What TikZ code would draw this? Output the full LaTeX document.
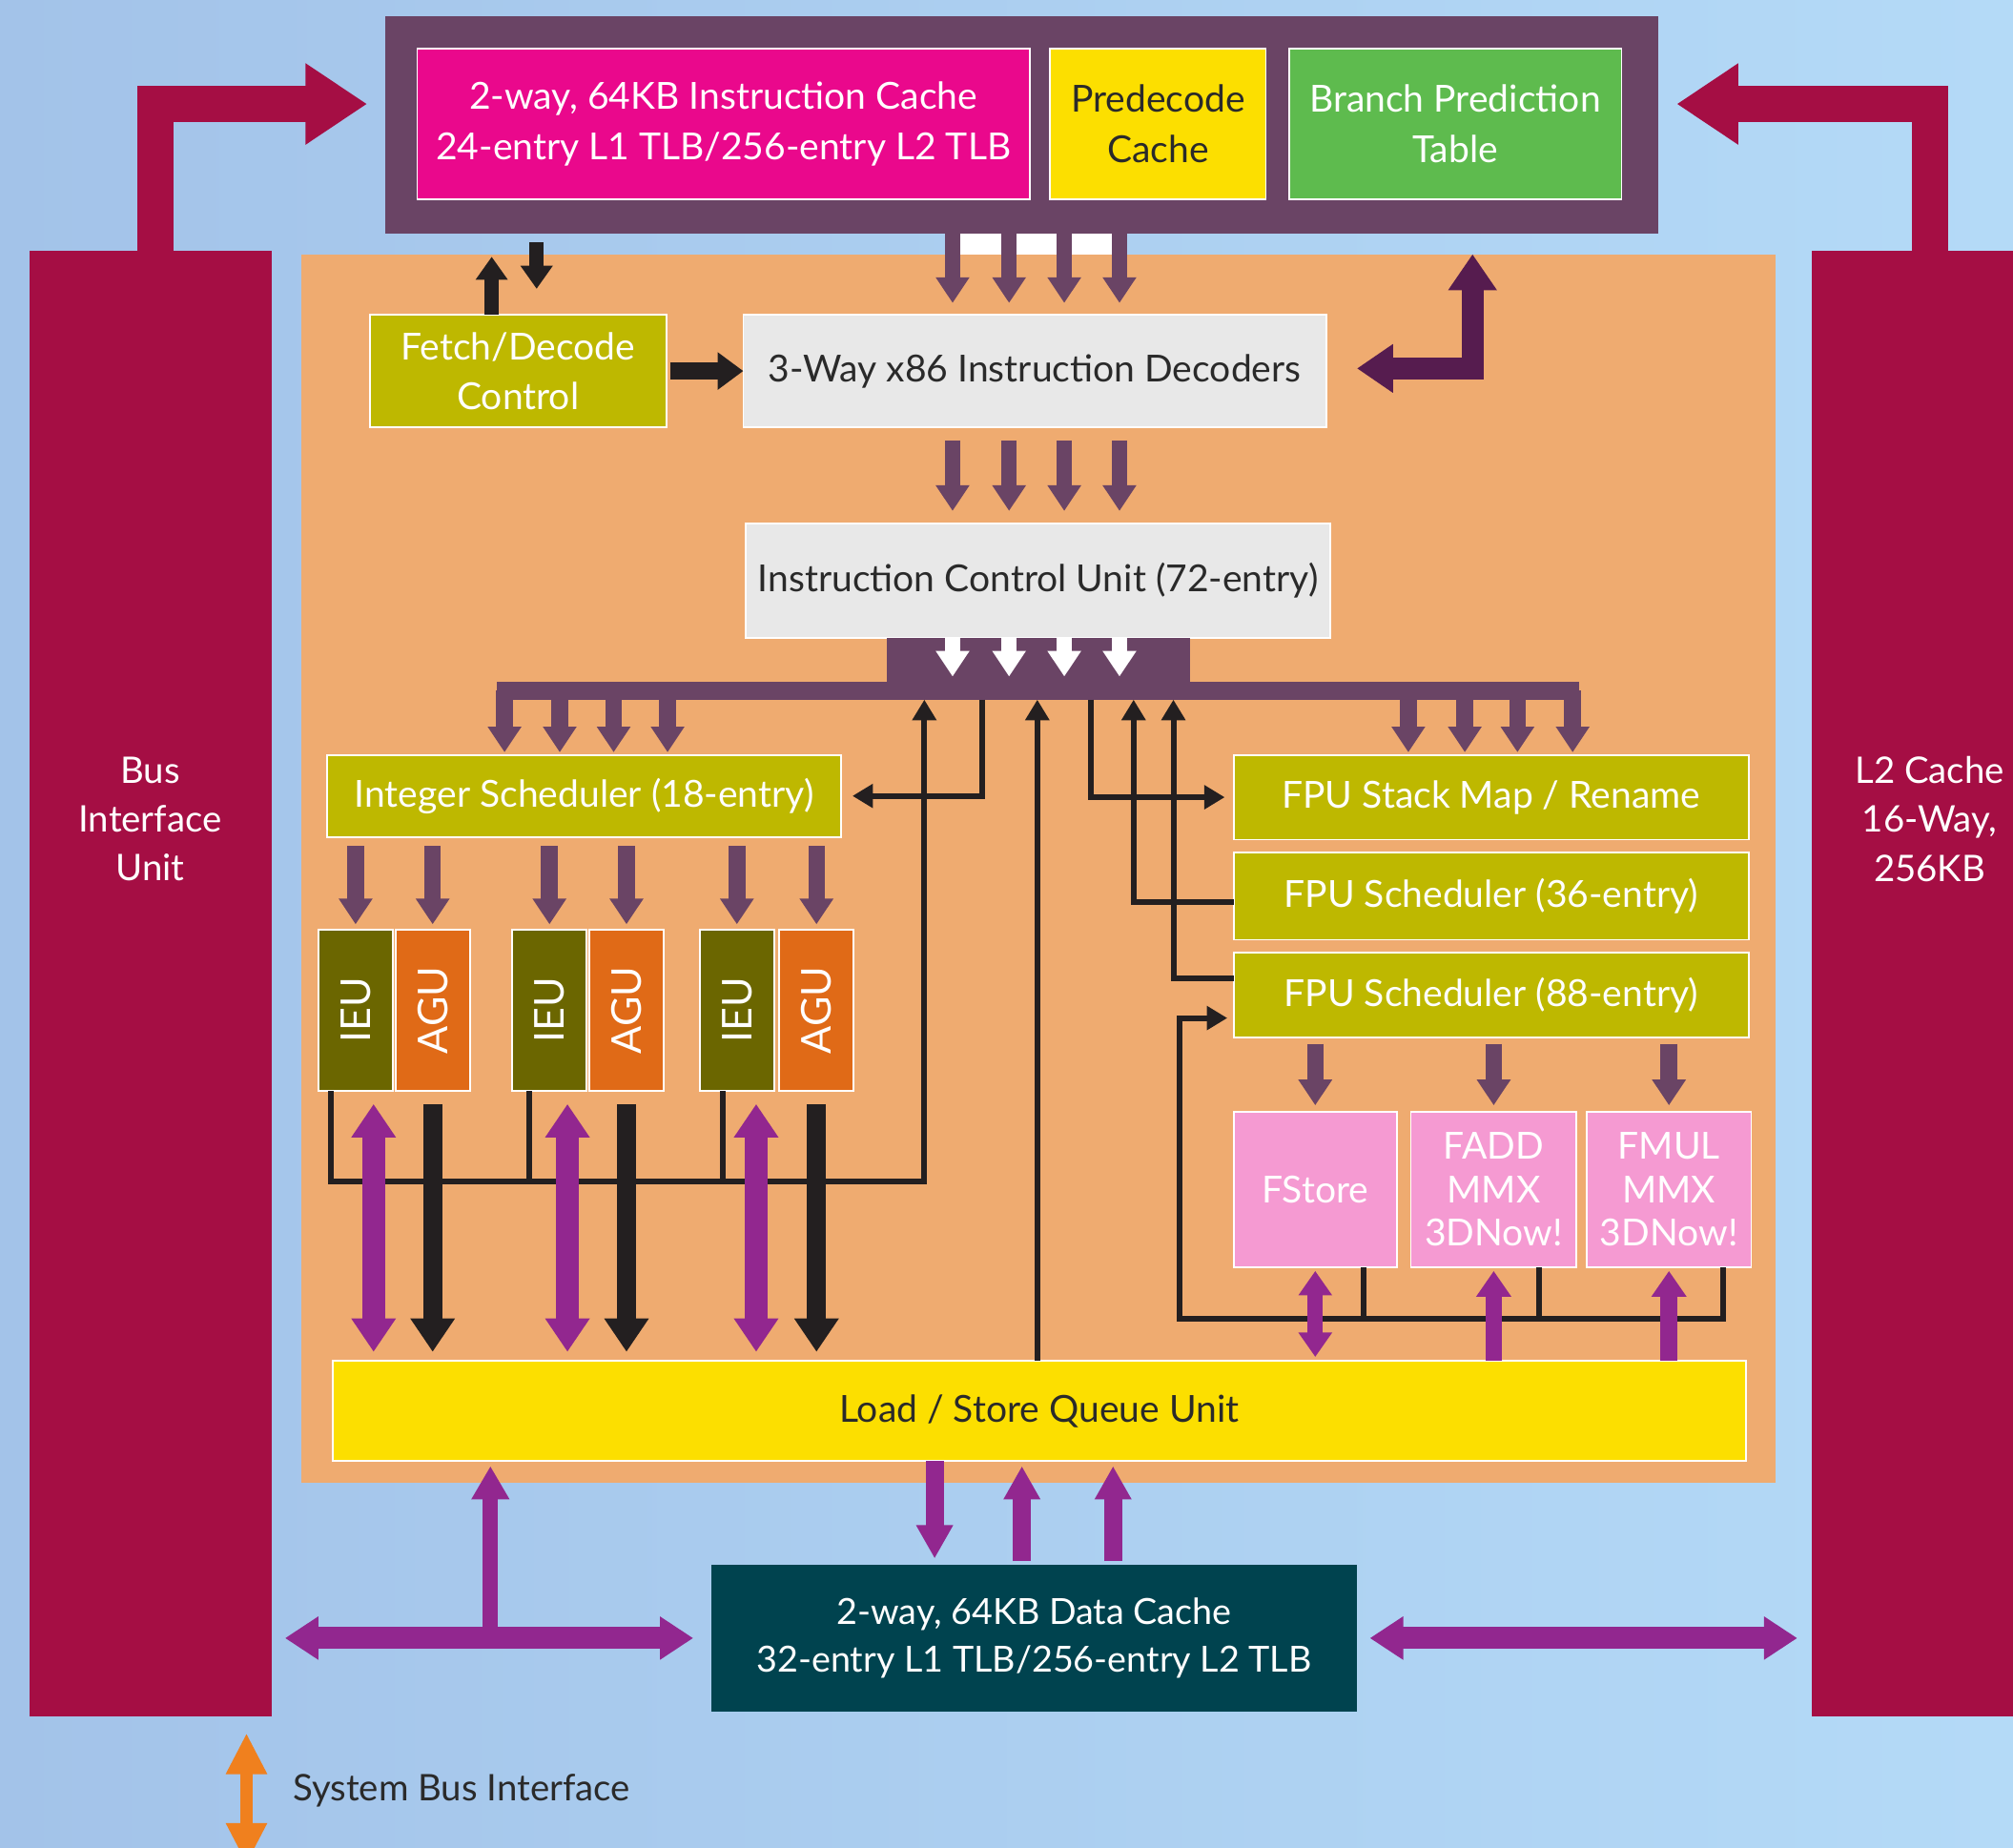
\documentclass[tikz,border=0pt]{standalone}
\usepackage{fontspec}
\usepackage{graphicx}
\setmainfont{Lato}
\usetikzlibrary{arrows.meta,calc}
\definecolor{bgl}{HTML}{A3C3E9}
\definecolor{bgr}{HTML}{B4DAF7}
\definecolor{corec}{HTML}{EFAB70}
\definecolor{plum}{HTML}{6A4465}
\definecolor{dplum}{HTML}{561C4F}
\definecolor{crim}{HTML}{A50E44}
\definecolor{pinkc}{HTML}{EA088C}
\definecolor{yel}{HTML}{FCDF00}
\definecolor{grn}{HTML}{5EBB4E}
\definecolor{olive}{HTML}{BEB800}
\definecolor{dolive}{HTML}{6B6600}
\definecolor{aguc}{HTML}{E06A17}
\definecolor{fpink}{HTML}{F59AD2}
\definecolor{lgray}{HTML}{E8E8E8}
\definecolor{teal}{HTML}{00434F}
\definecolor{vpur}{HTML}{92278F}
\definecolor{blk}{HTML}{231F20}
\definecolor{obus}{HTML}{F0801E}
\definecolor{txtd}{HTML}{2A2A2A}
\newcommand\mybox[7]{\node[#6, minimum width={#4-#2}, minimum height={#5-#3}] (#1) at ({(#2+#4)/2},{(#3+#5)/2}) {#7};}
\tikzset{
  blockfill/.style={inner sep=0pt, outer sep=0pt},
  box/.style={blockfill, draw=white, line width=1.3pt, align=center, font=\fontsize{29}{39}\selectfont},
  lbl/.style={align=center, text=white, font=\fontsize{28.5}{38}\selectfont},
  crarr/.style={draw=crim, line width=28pt, line join=miter, -{Triangle[width=60pt,length=48pt]}},
  parr/.style={draw=plum, line width=12pt, -{Triangle[width=25pt,length=20pt]}},
  warr/.style={draw=white, line width=12pt, -{Triangle[width=25pt,length=20pt]}},
  dparr/.style={draw=dplum, line width=17pt, line join=miter, {Triangle[width=36pt,length=28pt]}-{Triangle[width=36pt,length=28pt]}},
  barr/.style={draw=blk, line width=4.5pt, -{Triangle[width=18pt,length=16pt]}},
  bline/.style={draw=blk, line width=4.5pt},
  fbarr/.style={draw=blk, line width=11pt, -{Triangle[width=24pt,length=18pt]}},
  bigblk/.style={draw=blk, line width=15pt, -{Triangle[width=33pt,length=26pt]}},
  vpdbl/.style={draw=vpur, line width=18pt, {Triangle[width=33pt,length=26pt]}-{Triangle[width=33pt,length=26pt]}},
  vpdblsm/.style={draw=vpur, line width=12pt, {Triangle[width=25pt,length=19pt]}-{Triangle[width=25pt,length=19pt]}},
  vparrsm/.style={draw=vpur, line width=13pt, -{Triangle[width=26pt,length=20pt]}},
  vparrmed/.style={draw=vpur, line width=14pt, -{Triangle[width=27pt,length=26pt]}},
  vpdblbig/.style={draw=vpur, line width=17pt, {Triangle[width=32pt,length=26pt]}-{Triangle[width=32pt,length=26pt]}},
  obarr/.style={draw=obus, line width=9pt, {Triangle[width=30pt,length=32pt]}-{Triangle[width=30pt,length=32pt]}},
  unit/.style={blockfill, draw=white, line width=1.3pt, text=white, font=\fontsize{32}{36}\selectfont},
}
\begin{document}
\begin{tikzpicture}[x=1pt,y=-1pt]
\useasboundingbox (0,0) rectangle (1568,1439);
\shade[left color=bgl,right color=bgr] (0,0) rectangle (1568,1439);

% column coordinates
\coordinate (ca) at (742,0);
\coordinate (cb) at (786,0);
\coordinate (cc) at (829,0);
\coordinate (cd) at (872,0);
\coordinate (cf1) at (383,0);
\coordinate (cf2) at (418,0);
\coordinate (cbr) at (1147,0);
\coordinate (i1) at (393,0);
\coordinate (i2) at (436,0);
\coordinate (i3) at (478,0);
\coordinate (i4) at (520,0);
\coordinate (f1) at (1097,0);
\coordinate (f2) at (1141,0);
\coordinate (f3) at (1182,0);
\coordinate (f4) at (1225,0);
\coordinate (c765) at (765,0);
\coordinate (c808) at (808,0);
\coordinate (c850) at (850,0);
\coordinate (c883) at (883,0);
\coordinate (c914) at (914,0);
\coordinate (p1) at (291,0);
\coordinate (p2) at (442,0);
\coordinate (p3) at (589,0);
\coordinate (ib) at (720,920);
\coordinate (fl) at (919,1027);
\coordinate (c382) at (382,0);
\coordinate (c728) at (728,0);
\coordinate (c796) at (796,0);
\coordinate (c867) at (867,0);

% big blocks
\mybox{core}{235}{198}{1383}{1155}{blockfill,fill=corec}{}
\mybox{frame}{300}{13}{1292}{182}{blockfill,fill=plum}{}
\mybox{icache}{325}{38}{802}{155}{box,fill=pinkc,text=white}{2-way, 64KB Instruction Cache\\24-entry L1 TLB/256-entry L2 TLB}
\mybox{predec}{818}{38}{986}{155}{box,fill=yel,text=txtd}{Predecode\\Cache}
\mybox{bpt}{1004}{38}{1263}{155}{box,fill=grn,text=white}{Branch Prediction\\Table}
\mybox{biu}{23}{195}{212}{1337}{blockfill,fill=crim}{}
\mybox{l2}{1411}{195}{1568}{1337}{blockfill,fill=crim}{}
\node[lbl] (biutext) at (117,638) {Bus\\Interface\\Unit};
\node[lbl] (l2text) at (1503,638) {L2 Cache\\16-Way,\\256KB};

% BIU / L2 to frame
\draw[crarr] ([xshift=3.5pt]biu.north) |- ([xshift=-14pt,yshift=16.5pt]frame.west);
\draw[crarr] ([xshift=14pt]l2.north) |- ([xshift=14pt,yshift=16.5pt]frame.east);

\mybox{fetch}{288}{245}{519}{333}{box,fill=olive,text=white}{Fetch/Decode\\Control}
\mybox{dec}{579}{245}{1033}{333}{box,fill=lgray,text=txtd}{3-Way x86 Instruction Decoders}
\mybox{icu}{581}{408}{1036}{497}{box,fill=lgray,text=txtd}{Instruction Control Unit (72-entry)}

% frame -> decoders
\fill[white] (frame.south -| ca) rectangle (core.north -| cd);
\foreach \c in {ca,cb,cc,cd}{
  \draw[parr] (frame.south -| \c) -- ([yshift=9pt]dec.north -| \c);
}
\foreach \c in {ca,cb,cc,cd}{
  \draw[parr] ([yshift=-10pt]dec.south -| \c) -- ([yshift=10pt]icu.north -| \c);
}

% fetch arrows
\draw[fbarr] (fetch.north -| cf1) -- ([yshift=-2pt]core.north -| cf1);
\draw[fbarr] ([yshift=-7pt]frame.south -| cf2) -- ([yshift=20pt]fetch.north -| cf2);
\draw[fbarr, line width=13pt, -{Triangle[width=28pt,length=20pt]}] ([xshift=3pt]fetch.east) -- (dec.west);

% branch arrow
\draw[dparr] ([xshift=24pt,yshift=2pt]dec.east) -| (core.north -| cbr);

% ICU bottom + bus
\mybox{icub}{691}{497}{927}{545}{blockfill,fill=plum}{}
\mybox{bus}{387}{531}{1230}{545}{blockfill,fill=plum}{}
\foreach \c in {ca,cb,cc,cd}{
  \draw[warr] (icu.south -| \c) -- ([yshift=-30pt]icu.south -| \c);
}

% schedulers
\mybox{isch}{255}{588}{655}{652}{box,fill=olive,text=white}{Integer Scheduler (18-entry)}
\mybox{fsm}{961}{588}{1362}{654}{box,fill=olive,text=white}{FPU Stack Map / Rename}
\mybox{fs36}{961}{664}{1362}{732}{box,fill=olive,text=white}{FPU Scheduler (36-entry)}
\mybox{fs88}{961}{742}{1362}{808}{box,fill=olive,text=white}{FPU Scheduler (88-entry)}

\foreach \c in {i1,i2,i3,i4}{
  \draw[parr, line width=13pt] ([yshift=7pt]bus.south -| \c) -- ([yshift=2pt]isch.north -| \c);
}
\foreach \c in {f1,f2,f3,f4}{
  \draw[parr, line width=13pt] ([yshift=7pt]bus.south -| \c) -- ([yshift=2pt]fsm.north -| \c);
}

% integer units
\mybox{ieua}{248}{724}{306}{850}{unit,fill=dolive}{\rotatebox{90}{IEU}}
\mybox{agua}{308}{724}{366}{850}{unit,fill=aguc}{\rotatebox{90}{AGU}}
\mybox{ieub}{399}{724}{457}{850}{unit,fill=dolive}{\rotatebox{90}{IEU}}
\mybox{agub}{459}{724}{517}{850}{unit,fill=aguc}{\rotatebox{90}{AGU}}
\mybox{ieuc}{545}{724}{603}{850}{unit,fill=dolive}{\rotatebox{90}{IEU}}
\mybox{aguc}{607}{724}{665}{850}{unit,fill=aguc}{\rotatebox{90}{AGU}}

\foreach \u in {ieua,agua,ieub,agub,ieuc,aguc}{
  \draw[parr, line width=13pt] ([yshift=-7pt]isch.south -| \u) -- ([yshift=4pt]\u.north);
}

% LSQ
\mybox{lsq}{259}{1060}{1360}{1138}{box,fill=yel,text=txtd}{Load / Store Queue Unit}

% black control lines
\draw[bline] ([xshift=13pt]ieub.south west) -- ([xshift=13pt]ieub.south west |- ib);
\draw[bline] ([xshift=18pt]ieuc.south west) -- ([xshift=18pt]ieuc.south west |- ib);
\draw[barr] ([xshift=10pt]ieua.south west) |- (ib) -- (bus.south -| ib);
\draw[barr] (bus.south -| c765) |- ([xshift=9pt]isch.east);
\draw[barr] (lsq.north -| c808) -- (bus.south -| c808);
\draw[barr] (bus.south -| c850) |- ([xshift=-7pt]fsm.west);
\draw[barr] ([yshift=-5pt]fs36.west) -| (bus.south -| c883);
\draw[barr] ([yshift=13pt]fs88.west) -| (bus.south -| c914);

% integer unit <-> LSQ
\draw[vpdbl] ([yshift=-10pt]ieua.south -| p1) -- ([yshift=7pt]lsq.north -| p1);
\draw[vpdbl] ([yshift=-10pt]ieub.south -| p2) -- ([yshift=7pt]lsq.north -| p2);
\draw[vpdbl] ([yshift=-10pt]ieuc.south -| p3) -- ([yshift=7pt]lsq.north -| p3);
\foreach \u in {agua,agub,aguc}{
  \draw[bigblk] ([yshift=-10pt]\u.south) -- ([yshift=7pt]lsq.north -| \u);
}

% FPU units
\mybox{fstore}{961}{866}{1088}{987}{box,fill=fpink,text=white}{FStore}
\mybox{fadd}{1099}{866}{1228}{987}{box,fill=fpink,text=white,font=\fontsize{29}{34}\selectfont}{FADD\\MMX\\3DNow!}
\mybox{fmul}{1236}{866}{1364}{987}{box,fill=fpink,text=white,font=\fontsize{29}{34}\selectfont}{FMUL\\MMX\\3DNow!}
\foreach \u in {fstore,fadd,fmul}{
  \draw[parr, line width=13pt] ([yshift=-5pt]fs88.south -| \u) -- ([yshift=5pt]\u.north);
}
\draw[bline] ([xshift=-26pt]fstore.south east) -- ([xshift=-26pt]fstore.south east |- fl);
\draw[bline] ([xshift=-29pt]fadd.south east) -- ([xshift=-29pt]fadd.south east |- fl);
\draw[barr] ([xshift=-22pt]fmul.south east) |- (fl) |- ([xshift=-5pt,yshift=-18pt]fs88.west);
\draw[vpdblsm] ([yshift=-3pt]fstore.south) -- ([yshift=3pt]lsq.north -| fstore);
\draw[vparrsm] (lsq.north -| fadd) -- ([yshift=-3pt]fadd.south);
\draw[vparrsm] (lsq.north -| fmul) -- ([yshift=-3pt]fmul.south);

% data cache
\mybox{dcache}{554}{1219}{1057}{1333}{blockfill,fill=teal,text=white,align=center,font=\fontsize{28}{37}\selectfont}{2-way, 64KB Data Cache\\32-entry L1 TLB/256-entry L2 TLB}
\draw[vpdblbig] ([xshift=10pt]biu.east |- dcache.west) -- ([xshift=-14pt]dcache.west);
\draw[vpdblbig] ([xshift=10pt]dcache.east) -- ([xshift=-11pt]l2.west |- dcache.east);
\draw[vparrmed, line width=12pt, -{Triangle[width=28pt,length=26pt]}] (c382 |- dcache.west) -- ([yshift=-4pt]lsq.south -| c382);
\draw[vparrmed] (lsq.south -| c728) -- ([yshift=5pt]dcache.north -| c728);
\draw[vparrmed] ([yshift=3pt]dcache.north -| c796) -- ([yshift=-4pt]lsq.south -| c796);
\draw[vparrmed] ([yshift=3pt]dcache.north -| c867) -- ([yshift=-4pt]lsq.south -| c867);

% system bus
\coordinate (sb1) at (192,1350);
\coordinate (sb2) at (192,1452);
\draw[obarr] (sb1) -- (sb2);
\node[anchor=west, text=txtd, inner sep=0pt, font=\fontsize{28.5}{30}\selectfont] (sbi) at (228,1395) {System Bus Interface};
\end{tikzpicture}
\end{document}
